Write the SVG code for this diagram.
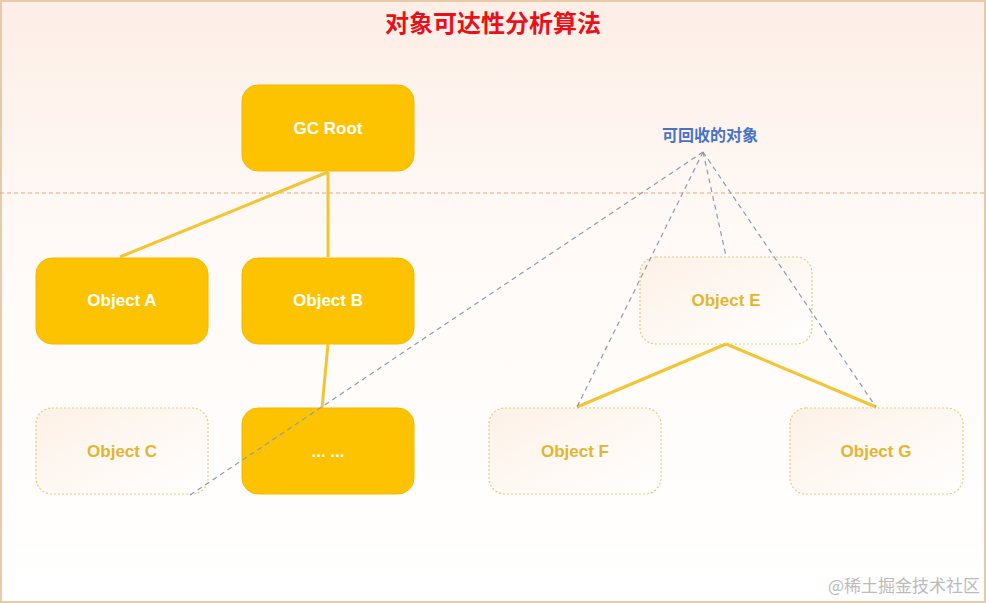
<svg xmlns="http://www.w3.org/2000/svg" width="986" height="603" viewBox="0 0 986 603">
<defs>
<linearGradient id="bg" x1="0" y1="0" x2="0" y2="1"><stop offset="0" stop-color="#fdeee6"/><stop offset="0.4" stop-color="#fffaf7"/><stop offset="1" stop-color="#ffffff"/></linearGradient>
<linearGradient id="ghost" x1="0" y1="0" x2="1" y2="1"><stop offset="0" stop-color="#fdf1e6"/><stop offset="1" stop-color="#ffffff"/></linearGradient>
</defs>
<style>
.solid{fill:#fdc300;stroke:#f5b800;stroke-width:1}
.ghost{fill:url(#ghost);stroke:#dcd080;stroke-width:1.2;stroke-dasharray:2 2}
.wt{font-family:"Liberation Sans",sans-serif;font-weight:bold;font-size:17px;fill:#ffffff;text-anchor:middle}
.yt{font-family:"Liberation Sans",sans-serif;font-weight:bold;font-size:17px;fill:#e2b630;text-anchor:middle}
.ln{stroke:#f3c433;stroke-width:3;fill:none}
.dl{stroke:#8a9db0;stroke-width:1.2;stroke-dasharray:5 4;fill:none}
</style>
<rect x="1" y="1" width="984" height="601" fill="url(#bg)" stroke="#e8c9a8" stroke-width="2"/>
<text x="493" y="32" font-family="'Noto Sans CJK SC',sans-serif" font-weight="bold" font-size="24" fill="#e8101a" text-anchor="middle">对象可达性分析算法</text>
<line x1="0" y1="193" x2="986" y2="193" stroke="#e8a878" stroke-width="1.2" stroke-dasharray="4 3"/>
<g id="gcroot"><rect class="solid" x="242" y="85" width="172" height="86" rx="16"/><text class="wt" x="328" y="134">GC Root</text></g>
<g id="objA"><rect class="solid" x="36" y="258" width="172" height="86" rx="16"/><text class="wt" x="122" y="306">Object A</text></g>
<g id="objB"><rect class="solid" x="242" y="258" width="172" height="86" rx="16"/><text class="wt" x="328" y="306">Object B</text></g>
<g id="objC"><rect class="ghost" x="36" y="408" width="172" height="86" rx="16"/><text class="yt" x="122" y="457">Object C</text></g>
<g id="dots"><rect class="solid" x="242" y="408" width="172" height="86" rx="16"/><text class="wt" x="328" y="457">... ...</text></g>
<g id="objE"><rect class="ghost" x="640" y="257" width="172" height="87" rx="16"/><text class="yt" x="726" y="306">Object E</text></g>
<g id="objF"><rect class="ghost" x="489" y="408" width="172" height="86" rx="16"/><text class="yt" x="575" y="457">Object F</text></g>
<g id="objG"><rect class="ghost" x="790" y="408" width="173" height="86" rx="16"/><text class="yt" x="876" y="457">Object G</text></g>
<g id="connectors">
<line class="ln" x1="328" y1="172" x2="120" y2="257"/>
<line class="ln" x1="328" y1="172" x2="328" y2="257"/>
<line class="ln" x1="328" y1="344" x2="322" y2="408"/>
<line class="ln" x1="726" y1="344" x2="577" y2="407"/>
<line class="ln" x1="726" y1="344" x2="876" y2="407"/>
<line class="dl" x1="703" y1="152" x2="187" y2="497"/>
<line class="dl" x1="703" y1="152" x2="577" y2="407"/>
<line class="dl" x1="703" y1="152" x2="726" y2="256"/>
<line class="dl" x1="703" y1="152" x2="876" y2="407"/>
</g>
<g id="label"><text x="710" y="141" font-family="'Noto Sans CJK SC',sans-serif" font-weight="bold" font-size="16" fill="#4a72c4" text-anchor="middle">可回收的对象</text></g>
<text x="980" y="592" font-family="'Noto Sans CJK SC',sans-serif" font-size="17" fill="#bbbbbb" text-anchor="end">@稀土掘金技术社区</text>
</svg>
